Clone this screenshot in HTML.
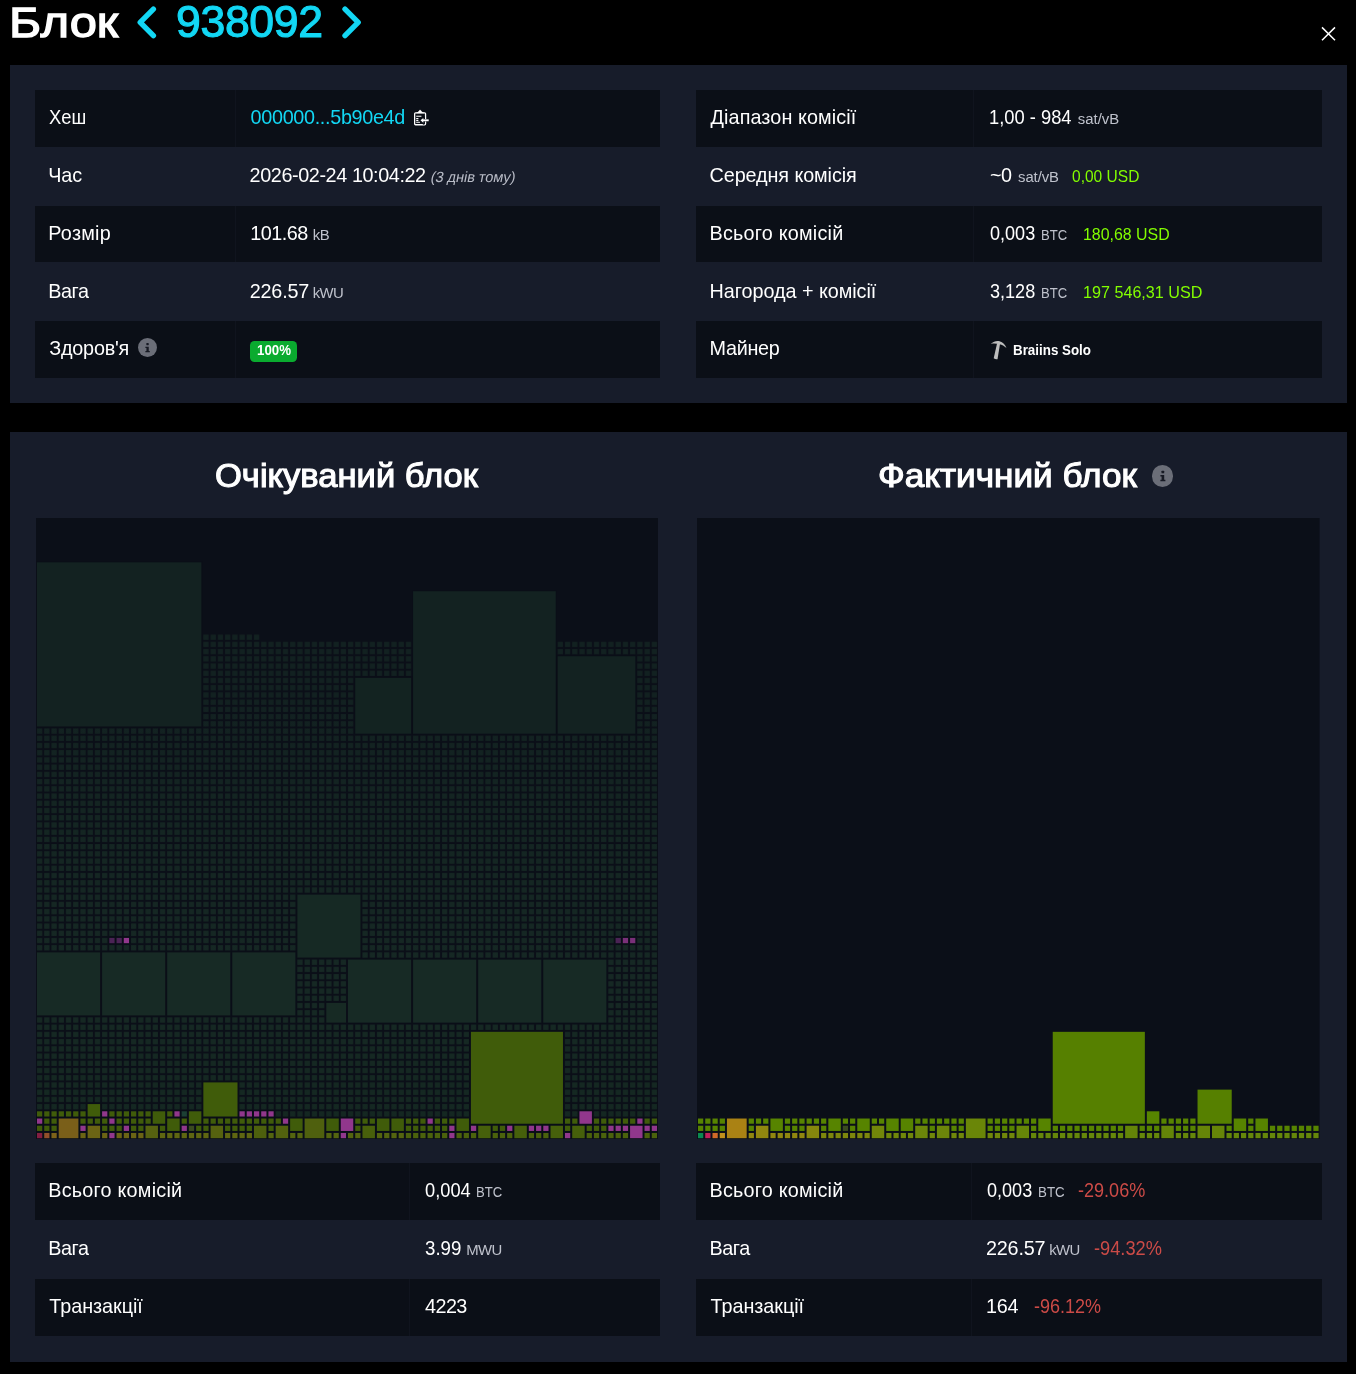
<!DOCTYPE html>
<html lang="uk"><head><meta charset="utf-8"><title>Блок 938092</title>
<style>
*{box-sizing:border-box;margin:0;padding:0}
html,body{width:1356px;height:1374px;background:#000;overflow:hidden}
body{position:relative;font-family:"Liberation Sans",sans-serif;color:#fff;font-size:19.2px;-webkit-font-smoothing:antialiased}
.t{position:absolute;line-height:1;white-space:pre;font-weight:400;margin:0;transform-origin:0 50%;text-decoration:none}
.w{color:#fff}.c{color:#12d7f4}.s{color:#bfc2cc}.g{color:#83fd00}.r{color:#cc4b47}.i{color:#b8bbc6}
.hb{-webkit-text-stroke:1.3px #fff}.hh{-webkit-text-stroke:1.1px #fff}
.c.big{-webkit-text-stroke:1.1px #12d7f4}
.box{position:absolute;left:9.6px;width:1337.4px;background:#171c2a}
.row{position:absolute;height:57.6px;width:625.5px}
.row.odd{background:#0b0f17;height:56.7px}
.row .sep{position:absolute;top:0;bottom:0;width:1px;background:#10141e}
svg{position:absolute;display:block}
#app{position:absolute;left:0;top:0;width:1356px;height:1374px;will-change:transform}
.badge{position:absolute;background:#0aab2f;border-radius:4.5px}
.info{position:absolute;border-radius:50%;background:#6b6e78}
.blockviz{position:absolute}
</style></head>
<body><main id="app">
<header class="title-block">
<h1 class="t w hb" style="left:9.14px;top:1.00px;font-size:43.2px;transform:scaleX(1.1329)">Блок</h1>
<svg style="left:130px;top:0" width="240" height="46" viewBox="130 0 240 46" fill="none" stroke="#12d7f4" stroke-width="5.4" stroke-linecap="round" stroke-linejoin="round"><path d="M153.4 9.2 L140.2 22.4 L153.4 35.6"/><path d="M345.0 9.2 L358.2 22.4 L345.0 35.6"/></svg>
<a class="t c big" style="left:176.05px;top:0.00px;font-size:44.6px;letter-spacing:-0.381px">938092</a>
<svg style="left:1318px;top:24px" width="22" height="20" viewBox="1318 24 22 20" stroke="#fff" stroke-width="1.5" stroke-linecap="butt"><path d="M1322 27.4 L1335 40.2 M1335 27.4 L1322 40.2"/></svg>
</header>
<section class="box" style="top:65px;height:338px"></section>
<div class="tbl" id="tbl-left">
<div class="row odd" style="left:35.2px;top:90.15px;width:624.9px;height:56.8px"><i class="sep" style="left:199.7px"></i></div>
<div class="row" style="left:35.2px;top:147.88px;width:624.9px"></div>
<div class="row odd" style="left:35.2px;top:205.61px;width:624.9px;height:56.8px"><i class="sep" style="left:199.7px"></i></div>
<div class="row" style="left:35.2px;top:263.34px;width:624.9px"></div>
<div class="row odd" style="left:35.2px;top:321.07px;width:624.9px;height:56.8px"><i class="sep" style="left:199.7px"></i></div>
<span class="t w" style="left:49.30px;top:108.00px;font-size:19.8px;transform:scaleX(0.9287)">Хеш</span>
<span class="t w" style="left:48.30px;top:166.00px;font-size:19.8px;letter-spacing:-0.143px">Час</span>
<span class="t w" style="left:48.30px;top:224.00px;font-size:19.8px;letter-spacing:0.247px">Розмір</span>
<span class="t w" style="left:48.30px;top:282.00px;font-size:19.8px;letter-spacing:-0.459px">Вага</span>
<span class="t w" style="left:49.30px;top:339.00px;font-size:19.8px;letter-spacing:-0.226px">Здоров'я</span>
<a class="t c" style="left:250.60px;top:108.00px;font-size:19.8px;letter-spacing:-0.320px">000000...5b90e4d</a>
<svg style="left:413px;top:108px" width="18" height="20" viewBox="0 0 18 20" fill="none" stroke="#fff" stroke-width="1.3"><rect x="1.65" y="4.95" width="10.9" height="11.8" rx="0.9"/><path d="M3.6 4.9 H10.6 L9.4 4.4 L7.1 1.9 L4.8 4.4 Z" fill="#fff" stroke-width="0.6" stroke-linejoin="round"/><path d="M3.2 8.25 H8.4 M3.2 10.6 H5.4 M3.2 12.4 H5.4 M3.2 14.3 H7" stroke-width="1.05"/><path d="M16 12.3 H10 M10.6 9.3 L7.2 12.3 L10.6 15.3 Z" stroke="#0b0f17" stroke-width="2.6" fill="#0b0f17" stroke-linejoin="round"/><path d="M15.7 12.3 H9.8" stroke-width="1.9"/><path d="M10.3 9.9 L7.5 12.3 L10.3 14.7 Z" fill="#fff" stroke="none"/></svg>
<span class="t w" style="left:249.60px;top:166.00px;font-size:19.8px;letter-spacing:-0.399px">2026-02-24 10:04:22</span>
<i class="t i" style="left:430.00px;top:170.00px;font-size:14.7px;letter-spacing:-0.134px;transform:skewX(-11deg);transform-origin:0 85%;font-style:normal">(3 днів тому)</i>
<span class="t w" style="left:250.20px;top:224.00px;font-size:19.8px;letter-spacing:-0.480px">101.68</span>
<small class="t s" style="left:312.80px;top:228.00px;font-size:14.9px;letter-spacing:-0.545px">kB</small>
<span class="t w" style="left:249.70px;top:282.00px;font-size:19.8px;letter-spacing:-0.180px">226.57</span>
<small class="t s" style="left:312.80px;top:286.00px;font-size:14.9px;letter-spacing:-0.650px">kWU</small>
<span class="info" style="left:137.8px;top:338.1px;width:19.2px;height:19.2px"></span>
<svg style="left:137.8px;top:338.1px" width="19.2" height="19.2" viewBox="0 0 20 20" fill="#171a24"><rect x="8.7" y="5.3" width="2.5" height="2.3" rx="0.5"/><path d="M7.7 9.1 H11.2 V13.5 H12.3 V14.9 H7.7 V13.5 H8.8 V10.5 H7.7 Z"/></svg>
<span class="badge" style="left:249.9px;top:341.2px;width:47px;height:21px"></span>
<span class="t w" style="left:256.60px;top:342.00px;font-size:15.4px;transform:scaleX(0.8619);font-weight:700">100%</span>
</div>
<div class="tbl" id="tbl-right">
<div class="row odd" style="left:696.4px;top:90.15px;width:625.4px;height:56.8px"><i class="sep" style="left:277.1px"></i></div>
<div class="row" style="left:696.4px;top:147.88px;width:625.4px"></div>
<div class="row odd" style="left:696.4px;top:205.61px;width:625.4px;height:56.8px"><i class="sep" style="left:277.1px"></i></div>
<div class="row" style="left:696.4px;top:263.34px;width:625.4px"></div>
<div class="row odd" style="left:696.4px;top:321.07px;width:625.4px;height:56.8px"><i class="sep" style="left:277.1px"></i></div>
<span class="t w" style="left:710.60px;top:108.00px;font-size:19.8px;letter-spacing:0.093px">Діапазон комісії</span>
<span class="t w" style="left:709.60px;top:166.00px;font-size:19.8px;letter-spacing:-0.092px">Середня комісія</span>
<span class="t w" style="left:709.60px;top:224.00px;font-size:19.8px;letter-spacing:0.213px">Всього комісій</span>
<span class="t w" style="left:709.60px;top:282.00px;font-size:19.8px;letter-spacing:-0.040px">Нагорода + комісії</span>
<span class="t w" style="left:709.60px;top:339.00px;font-size:19.8px;letter-spacing:-0.295px">Майнер</span>
<span class="t w" style="left:989.07px;top:108.00px;font-size:19.8px;transform:scaleX(0.9264)">1,00 - 984</span>
<span class="t s" style="left:1077.80px;top:112.00px;font-size:14.9px;letter-spacing:-0.009px">sat/vB</span>
<span class="t w" style="left:990.00px;top:166.00px;font-size:19.8px;letter-spacing:-0.452px">~0</span>
<span class="t s" style="left:1018.10px;top:170.00px;font-size:14.9px;letter-spacing:-0.109px">sat/vB</span>
<span class="t g" style="left:1072.30px;top:168.00px;font-size:17.3px;transform:scaleX(0.9000)">0,00 USD</span>
<span class="t w" style="left:990.00px;top:224.00px;font-size:19.8px;transform:scaleX(0.9131)">0,003</span>
<span class="t s" style="left:1040.62px;top:228.00px;font-size:14.9px;transform:scaleX(0.8785)">BTC</span>
<span class="t g" style="left:1083.08px;top:226.00px;font-size:17.3px;transform:scaleX(0.9205)">180,68 USD</span>
<span class="t w" style="left:990.00px;top:282.00px;font-size:19.8px;transform:scaleX(0.9131)">3,128</span>
<span class="t s" style="left:1040.62px;top:286.00px;font-size:14.9px;transform:scaleX(0.8785)">BTC</span>
<span class="t g" style="left:1083.07px;top:284.00px;font-size:17.3px;transform:scaleX(0.9343)">197 546,31 USD</span>
<svg style="left:989px;top:339px" width="20" height="22" viewBox="0 0 20 22" fill="#bdbdbd"><path d="M1.7 4.9 C4.5 2.2 8 1.4 10.6 2.2 C13.9 3.2 16.3 5.8 17.5 9 C15.2 6.9 13 5.7 10.6 5.2 C7.5 4.4 4.5 4.3 1.7 4.9 Z"/><path d="M8.1 4.3 L11 5 L8.5 20.2 Q6.5 20.7 4.7 19.3 Z"/></svg>
<b class="t w" style="left:1013.00px;top:343.00px;font-size:14.9px;transform:scaleX(0.8976);font-weight:700">Braiins Solo</b>
</div>
<section class="box" style="top:432px;height:929.6px"></section>
<h3 class="t w hh" style="left:215.03px;top:459.00px;font-size:33.0px;transform:scaleX(1.0470)">Очікуваний блок</h3>
<h3 class="t w hh" style="left:878.32px;top:459.00px;font-size:33.0px;transform:scaleX(1.0646)">Фактичний блок</h3>
<span class="info" style="left:1151.6px;top:465.1px;width:21.8px;height:21.8px"></span>
<svg style="left:1151.6px;top:465.1px" width="21.8" height="21.8" viewBox="0 0 20 20" fill="#171a24"><rect x="8.7" y="5.3" width="2.5" height="2.3" rx="0.5"/><path d="M7.7 9.1 H11.2 V13.5 H12.3 V14.9 H7.7 V13.5 H8.8 V10.5 H7.7 Z"/></svg>
<svg class="blockviz" preserveAspectRatio="none" style="left:36px;top:517.7px;height:621.2px" width="622" height="621.2" viewBox="0 0 622 622">
<defs>
<pattern id="cellpat" patternUnits="userSpaceOnUse" x="0" y="0" width="7.2326" height="7.2326"><rect x="1" y="1" width="5.233" height="5.233" fill="#f4f4f4"/></pattern>
<mask id="cellmask" maskUnits="userSpaceOnUse" x="0" y="0" width="622" height="622"><rect x="0" y="0" width="622" height="622" fill="url(#cellpat)"/></mask>
<linearGradient id="dimgrad" gradientUnits="userSpaceOnUse" x1="0" y1="0" x2="0" y2="622"><stop offset="0.000" stop-color="#132221"/><stop offset="0.279" stop-color="#132221"/><stop offset="0.477" stop-color="#152723"/><stop offset="0.744" stop-color="#172a25"/><stop offset="0.907" stop-color="#162a23"/><stop offset="1.000" stop-color="#152922"/></linearGradient>
</defs>
<rect width="622" height="622" fill="#0b0f18"/>
<path d="M0 122.95 H166.35 V115.72 H224.21 V122.95 H622 V622 H0 Z" fill="url(#dimgrad)" mask="url(#cellmask)"/>
<rect x="0.00" y="43.40" width="166.35" height="166.35" fill="#0b0f18"/><rect x="1.00" y="44.40" width="164.35" height="164.35" fill="#132221"/>
<rect x="376.09" y="72.33" width="144.65" height="144.65" fill="#0b0f18"/><rect x="377.09" y="73.33" width="142.65" height="142.65" fill="#132221"/>
<rect x="520.74" y="137.42" width="79.56" height="79.56" fill="#0b0f18"/><rect x="521.74" y="138.42" width="77.56" height="77.56" fill="#132221"/>
<rect x="318.23" y="159.12" width="57.86" height="57.86" fill="#0b0f18"/><rect x="319.23" y="160.12" width="55.86" height="55.86" fill="#132321"/>
<rect x="0.00" y="433.95" width="65.09" height="65.09" fill="#0b0f18"/><rect x="1.00" y="434.95" width="63.09" height="63.09" fill="#172a25"/>
<rect x="65.09" y="433.95" width="65.09" height="65.09" fill="#0b0f18"/><rect x="66.09" y="434.95" width="63.09" height="63.09" fill="#172a25"/>
<rect x="130.19" y="433.95" width="65.09" height="65.09" fill="#0b0f18"/><rect x="131.19" y="434.95" width="63.09" height="63.09" fill="#172a25"/>
<rect x="195.28" y="433.95" width="65.09" height="65.09" fill="#0b0f18"/><rect x="196.28" y="434.95" width="63.09" height="63.09" fill="#172a25"/>
<rect x="260.37" y="376.09" width="65.09" height="65.09" fill="#0b0f18"/><rect x="261.37" y="377.09" width="63.09" height="63.09" fill="#162924"/>
<rect x="311.00" y="441.19" width="65.09" height="65.09" fill="#0b0f18"/><rect x="312.00" y="442.19" width="63.09" height="63.09" fill="#172a25"/>
<rect x="376.09" y="441.19" width="65.09" height="65.09" fill="#0b0f18"/><rect x="377.09" y="442.19" width="63.09" height="63.09" fill="#172a25"/>
<rect x="441.19" y="441.19" width="65.09" height="65.09" fill="#0b0f18"/><rect x="442.19" y="442.19" width="63.09" height="63.09" fill="#172a25"/>
<rect x="506.28" y="441.19" width="65.09" height="65.09" fill="#0b0f18"/><rect x="507.28" y="442.19" width="63.09" height="63.09" fill="#172a25"/>
<rect x="289.30" y="484.58" width="21.70" height="21.70" fill="#0b0f18"/><rect x="290.30" y="485.58" width="19.70" height="19.70" fill="#172a24"/>
<rect x="433.95" y="513.51" width="94.02" height="94.02" fill="#0b0f18"/><rect x="434.95" y="514.51" width="92.02" height="92.02" fill="#405c0a"/>
<rect x="166.35" y="564.14" width="36.16" height="36.16" fill="#0b0f18"/><rect x="167.35" y="565.14" width="34.16" height="34.16" fill="#405c0a"/>
<rect x="21.70" y="600.30" width="21.70" height="21.70" fill="#0b0f18"/><rect x="22.70" y="601.30" width="19.70" height="19.70" fill="#7a5f19"/>
<rect x="267.60" y="600.30" width="21.70" height="21.70" fill="#0b0f18"/><rect x="268.60" y="601.30" width="19.70" height="19.70" fill="#4f600e"/>
<rect x="50.63" y="607.53" width="14.47" height="14.47" fill="#0b0f18"/><rect x="51.63" y="608.53" width="12.47" height="12.47" fill="#6b6414"/>
<rect x="108.49" y="607.53" width="14.47" height="14.47" fill="#0b0f18"/><rect x="109.49" y="608.53" width="12.47" height="12.47" fill="#566210"/>
<rect x="50.63" y="585.84" width="14.47" height="14.47" fill="#0b0f18"/><rect x="51.63" y="586.84" width="12.47" height="12.47" fill="#405c0a"/>
<rect x="130.19" y="600.30" width="14.47" height="14.47" fill="#0b0f18"/><rect x="131.19" y="601.30" width="12.47" height="12.47" fill="#405c0a"/>
<rect x="115.72" y="593.07" width="14.47" height="14.47" fill="#0b0f18"/><rect x="116.72" y="594.07" width="12.47" height="12.47" fill="#405c0a"/>
<rect x="151.88" y="593.07" width="14.47" height="14.47" fill="#0b0f18"/><rect x="152.88" y="594.07" width="12.47" height="12.47" fill="#405c0a"/>
<rect x="173.58" y="607.53" width="14.47" height="14.47" fill="#0b0f18"/><rect x="174.58" y="608.53" width="12.47" height="12.47" fill="#56620f"/>
<rect x="216.98" y="607.53" width="14.47" height="14.47" fill="#0b0f18"/><rect x="217.98" y="608.53" width="12.47" height="12.47" fill="#4d600d"/>
<rect x="238.67" y="607.53" width="14.47" height="14.47" fill="#0b0f18"/><rect x="239.67" y="608.53" width="12.47" height="12.47" fill="#52620e"/>
<rect x="253.14" y="600.30" width="14.47" height="14.47" fill="#0b0f18"/><rect x="254.14" y="601.30" width="12.47" height="12.47" fill="#405c0a"/>
<rect x="289.30" y="600.30" width="14.47" height="14.47" fill="#0b0f18"/><rect x="290.30" y="601.30" width="12.47" height="12.47" fill="#405c0a"/>
<rect x="303.77" y="600.30" width="14.47" height="14.47" fill="#0b0f18"/><rect x="304.77" y="601.30" width="12.47" height="12.47" fill="#91378c"/>
<rect x="325.47" y="607.53" width="14.47" height="14.47" fill="#0b0f18"/><rect x="326.47" y="608.53" width="12.47" height="12.47" fill="#48600b"/>
<rect x="339.93" y="600.30" width="14.47" height="14.47" fill="#0b0f18"/><rect x="340.93" y="601.30" width="12.47" height="12.47" fill="#405c0a"/>
<rect x="354.40" y="600.30" width="14.47" height="14.47" fill="#0b0f18"/><rect x="355.40" y="601.30" width="12.47" height="12.47" fill="#405c0a"/>
<rect x="419.49" y="600.30" width="14.47" height="14.47" fill="#0b0f18"/><rect x="420.49" y="601.30" width="12.47" height="12.47" fill="#405c0a"/>
<rect x="441.19" y="607.53" width="14.47" height="14.47" fill="#0b0f18"/><rect x="442.19" y="608.53" width="12.47" height="12.47" fill="#46600b"/>
<rect x="477.35" y="607.53" width="14.47" height="14.47" fill="#0b0f18"/><rect x="478.35" y="608.53" width="12.47" height="12.47" fill="#46600b"/>
<rect x="513.51" y="607.53" width="14.47" height="14.47" fill="#0b0f18"/><rect x="514.51" y="608.53" width="12.47" height="12.47" fill="#46600b"/>
<rect x="535.21" y="607.53" width="14.47" height="14.47" fill="#0b0f18"/><rect x="536.21" y="608.53" width="12.47" height="12.47" fill="#46600b"/>
<rect x="593.07" y="607.53" width="14.47" height="14.47" fill="#0b0f18"/><rect x="594.07" y="608.53" width="12.47" height="12.47" fill="#91378c"/>
<rect x="542.44" y="593.07" width="14.47" height="14.47" fill="#0b0f18"/><rect x="543.44" y="594.07" width="12.47" height="12.47" fill="#91378c"/>
<rect x="0.00" y="614.77" width="7.23" height="7.23" fill="#0b0f18"/><rect x="1.00" y="615.77" width="5.23" height="5.23" fill="#821e41"/>
<rect x="7.23" y="614.77" width="7.23" height="7.23" fill="#0b0f18"/><rect x="8.23" y="615.77" width="5.23" height="5.23" fill="#91502a"/>
<rect x="14.47" y="614.77" width="7.23" height="7.23" fill="#0b0f18"/><rect x="15.47" y="615.77" width="5.23" height="5.23" fill="#7d6219"/>
<rect x="43.40" y="614.77" width="7.23" height="7.23" fill="#0b0f18"/><rect x="44.40" y="615.77" width="5.23" height="5.23" fill="#6b6414"/>
<rect x="65.09" y="614.77" width="7.23" height="7.23" fill="#0b0f18"/><rect x="66.09" y="615.77" width="5.23" height="5.23" fill="#6b6414"/>
<rect x="72.33" y="614.77" width="7.23" height="7.23" fill="#0b0f18"/><rect x="73.33" y="615.77" width="5.23" height="5.23" fill="#91378c"/>
<rect x="79.56" y="614.77" width="7.23" height="7.23" fill="#0b0f18"/><rect x="80.56" y="615.77" width="5.23" height="5.23" fill="#6b6414"/>
<rect x="86.79" y="614.77" width="7.23" height="7.23" fill="#0b0f18"/><rect x="87.79" y="615.77" width="5.23" height="5.23" fill="#6b6414"/>
<rect x="94.02" y="614.77" width="7.23" height="7.23" fill="#0b0f18"/><rect x="95.02" y="615.77" width="5.23" height="5.23" fill="#6b6414"/>
<rect x="101.26" y="614.77" width="7.23" height="7.23" fill="#0b0f18"/><rect x="102.26" y="615.77" width="5.23" height="5.23" fill="#6b6414"/>
<rect x="122.95" y="614.77" width="7.23" height="7.23" fill="#0b0f18"/><rect x="123.95" y="615.77" width="5.23" height="5.23" fill="#5f6611"/>
<rect x="130.19" y="614.77" width="7.23" height="7.23" fill="#0b0f18"/><rect x="131.19" y="615.77" width="5.23" height="5.23" fill="#5f6611"/>
<rect x="137.42" y="614.77" width="7.23" height="7.23" fill="#0b0f18"/><rect x="138.42" y="615.77" width="5.23" height="5.23" fill="#5f6611"/>
<rect x="144.65" y="614.77" width="7.23" height="7.23" fill="#0b0f18"/><rect x="145.65" y="615.77" width="5.23" height="5.23" fill="#5f6611"/>
<rect x="151.88" y="614.77" width="7.23" height="7.23" fill="#0b0f18"/><rect x="152.88" y="615.77" width="5.23" height="5.23" fill="#5f6611"/>
<rect x="159.12" y="614.77" width="7.23" height="7.23" fill="#0b0f18"/><rect x="160.12" y="615.77" width="5.23" height="5.23" fill="#5f6611"/>
<rect x="166.35" y="614.77" width="7.23" height="7.23" fill="#0b0f18"/><rect x="167.35" y="615.77" width="5.23" height="5.23" fill="#5f6611"/>
<rect x="188.05" y="614.77" width="7.23" height="7.23" fill="#0b0f18"/><rect x="189.05" y="615.77" width="5.23" height="5.23" fill="#5f6611"/>
<rect x="195.28" y="614.77" width="7.23" height="7.23" fill="#0b0f18"/><rect x="196.28" y="615.77" width="5.23" height="5.23" fill="#5f6611"/>
<rect x="202.51" y="614.77" width="7.23" height="7.23" fill="#0b0f18"/><rect x="203.51" y="615.77" width="5.23" height="5.23" fill="#5f6611"/>
<rect x="209.74" y="614.77" width="7.23" height="7.23" fill="#0b0f18"/><rect x="210.74" y="615.77" width="5.23" height="5.23" fill="#5f6611"/>
<rect x="231.44" y="614.77" width="7.23" height="7.23" fill="#0b0f18"/><rect x="232.44" y="615.77" width="5.23" height="5.23" fill="#54650f"/>
<rect x="253.14" y="614.77" width="7.23" height="7.23" fill="#0b0f18"/><rect x="254.14" y="615.77" width="5.23" height="5.23" fill="#54650f"/>
<rect x="260.37" y="614.77" width="7.23" height="7.23" fill="#0b0f18"/><rect x="261.37" y="615.77" width="5.23" height="5.23" fill="#54650f"/>
<rect x="289.30" y="614.77" width="7.23" height="7.23" fill="#0b0f18"/><rect x="290.30" y="615.77" width="5.23" height="5.23" fill="#54650f"/>
<rect x="296.53" y="614.77" width="7.23" height="7.23" fill="#0b0f18"/><rect x="297.53" y="615.77" width="5.23" height="5.23" fill="#54650f"/>
<rect x="303.77" y="614.77" width="7.23" height="7.23" fill="#0b0f18"/><rect x="304.77" y="615.77" width="5.23" height="5.23" fill="#91378c"/>
<rect x="311.00" y="614.77" width="7.23" height="7.23" fill="#0b0f18"/><rect x="312.00" y="615.77" width="5.23" height="5.23" fill="#54650f"/>
<rect x="318.23" y="614.77" width="7.23" height="7.23" fill="#0b0f18"/><rect x="319.23" y="615.77" width="5.23" height="5.23" fill="#54650f"/>
<rect x="339.93" y="614.77" width="7.23" height="7.23" fill="#0b0f18"/><rect x="340.93" y="615.77" width="5.23" height="5.23" fill="#54650f"/>
<rect x="347.16" y="614.77" width="7.23" height="7.23" fill="#0b0f18"/><rect x="348.16" y="615.77" width="5.23" height="5.23" fill="#54650f"/>
<rect x="354.40" y="614.77" width="7.23" height="7.23" fill="#0b0f18"/><rect x="355.40" y="615.77" width="5.23" height="5.23" fill="#54650f"/>
<rect x="361.63" y="614.77" width="7.23" height="7.23" fill="#0b0f18"/><rect x="362.63" y="615.77" width="5.23" height="5.23" fill="#54650f"/>
<rect x="368.86" y="614.77" width="7.23" height="7.23" fill="#0b0f18"/><rect x="369.86" y="615.77" width="5.23" height="5.23" fill="#4b620c"/>
<rect x="376.09" y="614.77" width="7.23" height="7.23" fill="#0b0f18"/><rect x="377.09" y="615.77" width="5.23" height="5.23" fill="#4b620c"/>
<rect x="383.33" y="614.77" width="7.23" height="7.23" fill="#0b0f18"/><rect x="384.33" y="615.77" width="5.23" height="5.23" fill="#4b620c"/>
<rect x="390.56" y="614.77" width="7.23" height="7.23" fill="#0b0f18"/><rect x="391.56" y="615.77" width="5.23" height="5.23" fill="#4b620c"/>
<rect x="397.79" y="614.77" width="7.23" height="7.23" fill="#0b0f18"/><rect x="398.79" y="615.77" width="5.23" height="5.23" fill="#4b620c"/>
<rect x="405.02" y="614.77" width="7.23" height="7.23" fill="#0b0f18"/><rect x="406.02" y="615.77" width="5.23" height="5.23" fill="#4b620c"/>
<rect x="412.26" y="614.77" width="7.23" height="7.23" fill="#0b0f18"/><rect x="413.26" y="615.77" width="5.23" height="5.23" fill="#91378c"/>
<rect x="419.49" y="614.77" width="7.23" height="7.23" fill="#0b0f18"/><rect x="420.49" y="615.77" width="5.23" height="5.23" fill="#4b620c"/>
<rect x="426.72" y="614.77" width="7.23" height="7.23" fill="#0b0f18"/><rect x="427.72" y="615.77" width="5.23" height="5.23" fill="#4b620c"/>
<rect x="433.95" y="614.77" width="7.23" height="7.23" fill="#0b0f18"/><rect x="434.95" y="615.77" width="5.23" height="5.23" fill="#4b620c"/>
<rect x="455.65" y="614.77" width="7.23" height="7.23" fill="#0b0f18"/><rect x="456.65" y="615.77" width="5.23" height="5.23" fill="#4b620c"/>
<rect x="462.88" y="614.77" width="7.23" height="7.23" fill="#0b0f18"/><rect x="463.88" y="615.77" width="5.23" height="5.23" fill="#4b620c"/>
<rect x="470.12" y="614.77" width="7.23" height="7.23" fill="#0b0f18"/><rect x="471.12" y="615.77" width="5.23" height="5.23" fill="#4b620c"/>
<rect x="491.81" y="614.77" width="7.23" height="7.23" fill="#0b0f18"/><rect x="492.81" y="615.77" width="5.23" height="5.23" fill="#4b620c"/>
<rect x="499.05" y="614.77" width="7.23" height="7.23" fill="#0b0f18"/><rect x="500.05" y="615.77" width="5.23" height="5.23" fill="#4b620c"/>
<rect x="506.28" y="614.77" width="7.23" height="7.23" fill="#0b0f18"/><rect x="507.28" y="615.77" width="5.23" height="5.23" fill="#4b620c"/>
<rect x="527.98" y="614.77" width="7.23" height="7.23" fill="#0b0f18"/><rect x="528.98" y="615.77" width="5.23" height="5.23" fill="#91378c"/>
<rect x="549.67" y="614.77" width="7.23" height="7.23" fill="#0b0f18"/><rect x="550.67" y="615.77" width="5.23" height="5.23" fill="#4b620c"/>
<rect x="556.91" y="614.77" width="7.23" height="7.23" fill="#0b0f18"/><rect x="557.91" y="615.77" width="5.23" height="5.23" fill="#4b620c"/>
<rect x="564.14" y="614.77" width="7.23" height="7.23" fill="#0b0f18"/><rect x="565.14" y="615.77" width="5.23" height="5.23" fill="#4b620c"/>
<rect x="571.37" y="614.77" width="7.23" height="7.23" fill="#0b0f18"/><rect x="572.37" y="615.77" width="5.23" height="5.23" fill="#4b620c"/>
<rect x="578.60" y="614.77" width="7.23" height="7.23" fill="#0b0f18"/><rect x="579.60" y="615.77" width="5.23" height="5.23" fill="#4b620c"/>
<rect x="585.84" y="614.77" width="7.23" height="7.23" fill="#0b0f18"/><rect x="586.84" y="615.77" width="5.23" height="5.23" fill="#4b620c"/>
<rect x="607.53" y="614.77" width="7.23" height="7.23" fill="#0b0f18"/><rect x="608.53" y="615.77" width="5.23" height="5.23" fill="#4b620c"/>
<rect x="614.77" y="614.77" width="7.23" height="7.23" fill="#0b0f18"/><rect x="615.77" y="615.77" width="5.23" height="5.23" fill="#4b620c"/>
<rect x="0.00" y="607.53" width="7.23" height="7.23" fill="#0b0f18"/><rect x="1.00" y="608.53" width="5.23" height="5.23" fill="#405c0a"/>
<rect x="7.23" y="607.53" width="7.23" height="7.23" fill="#0b0f18"/><rect x="8.23" y="608.53" width="5.23" height="5.23" fill="#405c0a"/>
<rect x="14.47" y="607.53" width="7.23" height="7.23" fill="#0b0f18"/><rect x="15.47" y="608.53" width="5.23" height="5.23" fill="#405c0a"/>
<rect x="43.40" y="607.53" width="7.23" height="7.23" fill="#0b0f18"/><rect x="44.40" y="608.53" width="5.23" height="5.23" fill="#91378c"/>
<rect x="65.09" y="607.53" width="7.23" height="7.23" fill="#0b0f18"/><rect x="66.09" y="608.53" width="5.23" height="5.23" fill="#405c0a"/>
<rect x="72.33" y="607.53" width="7.23" height="7.23" fill="#0b0f18"/><rect x="73.33" y="608.53" width="5.23" height="5.23" fill="#405c0a"/>
<rect x="79.56" y="607.53" width="7.23" height="7.23" fill="#0b0f18"/><rect x="80.56" y="608.53" width="5.23" height="5.23" fill="#405c0a"/>
<rect x="86.79" y="607.53" width="7.23" height="7.23" fill="#0b0f18"/><rect x="87.79" y="608.53" width="5.23" height="5.23" fill="#91378c"/>
<rect x="94.02" y="607.53" width="7.23" height="7.23" fill="#0b0f18"/><rect x="95.02" y="608.53" width="5.23" height="5.23" fill="#405c0a"/>
<rect x="101.26" y="607.53" width="7.23" height="7.23" fill="#0b0f18"/><rect x="102.26" y="608.53" width="5.23" height="5.23" fill="#405c0a"/>
<rect x="122.95" y="607.53" width="7.23" height="7.23" fill="#0b0f18"/><rect x="123.95" y="608.53" width="5.23" height="5.23" fill="#405c0a"/>
<rect x="144.65" y="607.53" width="7.23" height="7.23" fill="#0b0f18"/><rect x="145.65" y="608.53" width="5.23" height="5.23" fill="#91378c"/>
<rect x="151.88" y="607.53" width="7.23" height="7.23" fill="#0b0f18"/><rect x="152.88" y="608.53" width="5.23" height="5.23" fill="#3a4a20"/>
<rect x="159.12" y="607.53" width="7.23" height="7.23" fill="#0b0f18"/><rect x="160.12" y="608.53" width="5.23" height="5.23" fill="#405c0a"/>
<rect x="166.35" y="607.53" width="7.23" height="7.23" fill="#0b0f18"/><rect x="167.35" y="608.53" width="5.23" height="5.23" fill="#405c0a"/>
<rect x="188.05" y="607.53" width="7.23" height="7.23" fill="#0b0f18"/><rect x="189.05" y="608.53" width="5.23" height="5.23" fill="#405c0a"/>
<rect x="195.28" y="607.53" width="7.23" height="7.23" fill="#0b0f18"/><rect x="196.28" y="608.53" width="5.23" height="5.23" fill="#405c0a"/>
<rect x="202.51" y="607.53" width="7.23" height="7.23" fill="#0b0f18"/><rect x="203.51" y="608.53" width="5.23" height="5.23" fill="#405c0a"/>
<rect x="209.74" y="607.53" width="7.23" height="7.23" fill="#0b0f18"/><rect x="210.74" y="608.53" width="5.23" height="5.23" fill="#405c0a"/>
<rect x="231.44" y="607.53" width="7.23" height="7.23" fill="#0b0f18"/><rect x="232.44" y="608.53" width="5.23" height="5.23" fill="#405c0a"/>
<rect x="318.23" y="607.53" width="7.23" height="7.23" fill="#0b0f18"/><rect x="319.23" y="608.53" width="5.23" height="5.23" fill="#405c0a"/>
<rect x="368.86" y="607.53" width="7.23" height="7.23" fill="#0b0f18"/><rect x="369.86" y="608.53" width="5.23" height="5.23" fill="#405c0a"/>
<rect x="376.09" y="607.53" width="7.23" height="7.23" fill="#0b0f18"/><rect x="377.09" y="608.53" width="5.23" height="5.23" fill="#405c0a"/>
<rect x="383.33" y="607.53" width="7.23" height="7.23" fill="#0b0f18"/><rect x="384.33" y="608.53" width="5.23" height="5.23" fill="#405c0a"/>
<rect x="390.56" y="607.53" width="7.23" height="7.23" fill="#0b0f18"/><rect x="391.56" y="608.53" width="5.23" height="5.23" fill="#405c0a"/>
<rect x="397.79" y="607.53" width="7.23" height="7.23" fill="#0b0f18"/><rect x="398.79" y="608.53" width="5.23" height="5.23" fill="#405c0a"/>
<rect x="405.02" y="607.53" width="7.23" height="7.23" fill="#0b0f18"/><rect x="406.02" y="608.53" width="5.23" height="5.23" fill="#405c0a"/>
<rect x="412.26" y="607.53" width="7.23" height="7.23" fill="#0b0f18"/><rect x="413.26" y="608.53" width="5.23" height="5.23" fill="#91378c"/>
<rect x="433.95" y="607.53" width="7.23" height="7.23" fill="#0b0f18"/><rect x="434.95" y="608.53" width="5.23" height="5.23" fill="#91378c"/>
<rect x="455.65" y="607.53" width="7.23" height="7.23" fill="#0b0f18"/><rect x="456.65" y="608.53" width="5.23" height="5.23" fill="#405c0a"/>
<rect x="462.88" y="607.53" width="7.23" height="7.23" fill="#0b0f18"/><rect x="463.88" y="608.53" width="5.23" height="5.23" fill="#405c0a"/>
<rect x="470.12" y="607.53" width="7.23" height="7.23" fill="#0b0f18"/><rect x="471.12" y="608.53" width="5.23" height="5.23" fill="#91378c"/>
<rect x="491.81" y="607.53" width="7.23" height="7.23" fill="#0b0f18"/><rect x="492.81" y="608.53" width="5.23" height="5.23" fill="#91378c"/>
<rect x="499.05" y="607.53" width="7.23" height="7.23" fill="#0b0f18"/><rect x="500.05" y="608.53" width="5.23" height="5.23" fill="#91378c"/>
<rect x="506.28" y="607.53" width="7.23" height="7.23" fill="#0b0f18"/><rect x="507.28" y="608.53" width="5.23" height="5.23" fill="#91378c"/>
<rect x="527.98" y="607.53" width="7.23" height="7.23" fill="#0b0f18"/><rect x="528.98" y="608.53" width="5.23" height="5.23" fill="#405c0a"/>
<rect x="549.67" y="607.53" width="7.23" height="7.23" fill="#0b0f18"/><rect x="550.67" y="608.53" width="5.23" height="5.23" fill="#405c0a"/>
<rect x="556.91" y="607.53" width="7.23" height="7.23" fill="#0b0f18"/><rect x="557.91" y="608.53" width="5.23" height="5.23" fill="#405c0a"/>
<rect x="564.14" y="607.53" width="7.23" height="7.23" fill="#0b0f18"/><rect x="565.14" y="608.53" width="5.23" height="5.23" fill="#405c0a"/>
<rect x="571.37" y="607.53" width="7.23" height="7.23" fill="#0b0f18"/><rect x="572.37" y="608.53" width="5.23" height="5.23" fill="#91378c"/>
<rect x="578.60" y="607.53" width="7.23" height="7.23" fill="#0b0f18"/><rect x="579.60" y="608.53" width="5.23" height="5.23" fill="#91378c"/>
<rect x="585.84" y="607.53" width="7.23" height="7.23" fill="#0b0f18"/><rect x="586.84" y="608.53" width="5.23" height="5.23" fill="#91378c"/>
<rect x="607.53" y="607.53" width="7.23" height="7.23" fill="#0b0f18"/><rect x="608.53" y="608.53" width="5.23" height="5.23" fill="#91378c"/>
<rect x="614.77" y="607.53" width="7.23" height="7.23" fill="#0b0f18"/><rect x="615.77" y="608.53" width="5.23" height="5.23" fill="#91378c"/>
<rect x="0.00" y="600.30" width="7.23" height="7.23" fill="#0b0f18"/><rect x="1.00" y="601.30" width="5.23" height="5.23" fill="#91378c"/>
<rect x="7.23" y="600.30" width="7.23" height="7.23" fill="#0b0f18"/><rect x="8.23" y="601.30" width="5.23" height="5.23" fill="#405c0a"/>
<rect x="14.47" y="600.30" width="7.23" height="7.23" fill="#0b0f18"/><rect x="15.47" y="601.30" width="5.23" height="5.23" fill="#405c0a"/>
<rect x="43.40" y="600.30" width="7.23" height="7.23" fill="#0b0f18"/><rect x="44.40" y="601.30" width="5.23" height="5.23" fill="#405c0a"/>
<rect x="50.63" y="600.30" width="7.23" height="7.23" fill="#0b0f18"/><rect x="51.63" y="601.30" width="5.23" height="5.23" fill="#405c0a"/>
<rect x="57.86" y="600.30" width="7.23" height="7.23" fill="#0b0f18"/><rect x="58.86" y="601.30" width="5.23" height="5.23" fill="#405c0a"/>
<rect x="65.09" y="600.30" width="7.23" height="7.23" fill="#0b0f18"/><rect x="66.09" y="601.30" width="5.23" height="5.23" fill="#405c0a"/>
<rect x="72.33" y="600.30" width="7.23" height="7.23" fill="#0b0f18"/><rect x="73.33" y="601.30" width="5.23" height="5.23" fill="#91378c"/>
<rect x="79.56" y="600.30" width="7.23" height="7.23" fill="#0b0f18"/><rect x="80.56" y="601.30" width="5.23" height="5.23" fill="#405c0a"/>
<rect x="86.79" y="600.30" width="7.23" height="7.23" fill="#0b0f18"/><rect x="87.79" y="601.30" width="5.23" height="5.23" fill="#405c0a"/>
<rect x="94.02" y="600.30" width="7.23" height="7.23" fill="#0b0f18"/><rect x="95.02" y="601.30" width="5.23" height="5.23" fill="#405c0a"/>
<rect x="101.26" y="600.30" width="7.23" height="7.23" fill="#0b0f18"/><rect x="102.26" y="601.30" width="5.23" height="5.23" fill="#405c0a"/>
<rect x="108.49" y="600.30" width="7.23" height="7.23" fill="#0b0f18"/><rect x="109.49" y="601.30" width="5.23" height="5.23" fill="#405c0a"/>
<rect x="144.65" y="600.30" width="7.23" height="7.23" fill="#0b0f18"/><rect x="145.65" y="601.30" width="5.23" height="5.23" fill="#405c0a"/>
<rect x="166.35" y="600.30" width="7.23" height="7.23" fill="#0b0f18"/><rect x="167.35" y="601.30" width="5.23" height="5.23" fill="#405c0a"/>
<rect x="173.58" y="600.30" width="7.23" height="7.23" fill="#0b0f18"/><rect x="174.58" y="601.30" width="5.23" height="5.23" fill="#405c0a"/>
<rect x="180.81" y="600.30" width="7.23" height="7.23" fill="#0b0f18"/><rect x="181.81" y="601.30" width="5.23" height="5.23" fill="#405c0a"/>
<rect x="188.05" y="600.30" width="7.23" height="7.23" fill="#0b0f18"/><rect x="189.05" y="601.30" width="5.23" height="5.23" fill="#405c0a"/>
<rect x="195.28" y="600.30" width="7.23" height="7.23" fill="#0b0f18"/><rect x="196.28" y="601.30" width="5.23" height="5.23" fill="#405c0a"/>
<rect x="202.51" y="600.30" width="7.23" height="7.23" fill="#0b0f18"/><rect x="203.51" y="601.30" width="5.23" height="5.23" fill="#405c0a"/>
<rect x="209.74" y="600.30" width="7.23" height="7.23" fill="#0b0f18"/><rect x="210.74" y="601.30" width="5.23" height="5.23" fill="#405c0a"/>
<rect x="216.98" y="600.30" width="7.23" height="7.23" fill="#0b0f18"/><rect x="217.98" y="601.30" width="5.23" height="5.23" fill="#405c0a"/>
<rect x="224.21" y="600.30" width="7.23" height="7.23" fill="#0b0f18"/><rect x="225.21" y="601.30" width="5.23" height="5.23" fill="#405c0a"/>
<rect x="231.44" y="600.30" width="7.23" height="7.23" fill="#0b0f18"/><rect x="232.44" y="601.30" width="5.23" height="5.23" fill="#405c0a"/>
<rect x="238.67" y="600.30" width="7.23" height="7.23" fill="#0b0f18"/><rect x="239.67" y="601.30" width="5.23" height="5.23" fill="#405c0a"/>
<rect x="245.91" y="600.30" width="7.23" height="7.23" fill="#0b0f18"/><rect x="246.91" y="601.30" width="5.23" height="5.23" fill="#91378c"/>
<rect x="318.23" y="600.30" width="7.23" height="7.23" fill="#0b0f18"/><rect x="319.23" y="601.30" width="5.23" height="5.23" fill="#405c0a"/>
<rect x="325.47" y="600.30" width="7.23" height="7.23" fill="#0b0f18"/><rect x="326.47" y="601.30" width="5.23" height="5.23" fill="#405c0a"/>
<rect x="332.70" y="600.30" width="7.23" height="7.23" fill="#0b0f18"/><rect x="333.70" y="601.30" width="5.23" height="5.23" fill="#405c0a"/>
<rect x="368.86" y="600.30" width="7.23" height="7.23" fill="#0b0f18"/><rect x="369.86" y="601.30" width="5.23" height="5.23" fill="#405c0a"/>
<rect x="376.09" y="600.30" width="7.23" height="7.23" fill="#0b0f18"/><rect x="377.09" y="601.30" width="5.23" height="5.23" fill="#405c0a"/>
<rect x="383.33" y="600.30" width="7.23" height="7.23" fill="#0b0f18"/><rect x="384.33" y="601.30" width="5.23" height="5.23" fill="#405c0a"/>
<rect x="390.56" y="600.30" width="7.23" height="7.23" fill="#0b0f18"/><rect x="391.56" y="601.30" width="5.23" height="5.23" fill="#91378c"/>
<rect x="397.79" y="600.30" width="7.23" height="7.23" fill="#0b0f18"/><rect x="398.79" y="601.30" width="5.23" height="5.23" fill="#405c0a"/>
<rect x="405.02" y="600.30" width="7.23" height="7.23" fill="#0b0f18"/><rect x="406.02" y="601.30" width="5.23" height="5.23" fill="#405c0a"/>
<rect x="412.26" y="600.30" width="7.23" height="7.23" fill="#0b0f18"/><rect x="413.26" y="601.30" width="5.23" height="5.23" fill="#405c0a"/>
<rect x="527.98" y="600.30" width="7.23" height="7.23" fill="#0b0f18"/><rect x="528.98" y="601.30" width="5.23" height="5.23" fill="#405c0a"/>
<rect x="535.21" y="600.30" width="7.23" height="7.23" fill="#0b0f18"/><rect x="536.21" y="601.30" width="5.23" height="5.23" fill="#405c0a"/>
<rect x="556.91" y="600.30" width="7.23" height="7.23" fill="#0b0f18"/><rect x="557.91" y="601.30" width="5.23" height="5.23" fill="#405c0a"/>
<rect x="564.14" y="600.30" width="7.23" height="7.23" fill="#0b0f18"/><rect x="565.14" y="601.30" width="5.23" height="5.23" fill="#405c0a"/>
<rect x="571.37" y="600.30" width="7.23" height="7.23" fill="#0b0f18"/><rect x="572.37" y="601.30" width="5.23" height="5.23" fill="#405c0a"/>
<rect x="578.60" y="600.30" width="7.23" height="7.23" fill="#0b0f18"/><rect x="579.60" y="601.30" width="5.23" height="5.23" fill="#405c0a"/>
<rect x="585.84" y="600.30" width="7.23" height="7.23" fill="#0b0f18"/><rect x="586.84" y="601.30" width="5.23" height="5.23" fill="#405c0a"/>
<rect x="593.07" y="600.30" width="7.23" height="7.23" fill="#0b0f18"/><rect x="594.07" y="601.30" width="5.23" height="5.23" fill="#405c0a"/>
<rect x="600.30" y="600.30" width="7.23" height="7.23" fill="#0b0f18"/><rect x="601.30" y="601.30" width="5.23" height="5.23" fill="#91378c"/>
<rect x="607.53" y="600.30" width="7.23" height="7.23" fill="#0b0f18"/><rect x="608.53" y="601.30" width="5.23" height="5.23" fill="#405c0a"/>
<rect x="614.77" y="600.30" width="7.23" height="7.23" fill="#0b0f18"/><rect x="615.77" y="601.30" width="5.23" height="5.23" fill="#405c0a"/>
<rect x="0.00" y="593.07" width="7.23" height="7.23" fill="#0b0f18"/><rect x="1.00" y="594.07" width="5.23" height="5.23" fill="#405c0a"/>
<rect x="7.23" y="593.07" width="7.23" height="7.23" fill="#0b0f18"/><rect x="8.23" y="594.07" width="5.23" height="5.23" fill="#405c0a"/>
<rect x="14.47" y="593.07" width="7.23" height="7.23" fill="#0b0f18"/><rect x="15.47" y="594.07" width="5.23" height="5.23" fill="#405c0a"/>
<rect x="21.70" y="593.07" width="7.23" height="7.23" fill="#0b0f18"/><rect x="22.70" y="594.07" width="5.23" height="5.23" fill="#405c0a"/>
<rect x="28.93" y="593.07" width="7.23" height="7.23" fill="#0b0f18"/><rect x="29.93" y="594.07" width="5.23" height="5.23" fill="#405c0a"/>
<rect x="36.16" y="593.07" width="7.23" height="7.23" fill="#0b0f18"/><rect x="37.16" y="594.07" width="5.23" height="5.23" fill="#405c0a"/>
<rect x="43.40" y="593.07" width="7.23" height="7.23" fill="#0b0f18"/><rect x="44.40" y="594.07" width="5.23" height="5.23" fill="#405c0a"/>
<rect x="65.09" y="593.07" width="7.23" height="7.23" fill="#0b0f18"/><rect x="66.09" y="594.07" width="5.23" height="5.23" fill="#91378c"/>
<rect x="72.33" y="593.07" width="7.23" height="7.23" fill="#0b0f18"/><rect x="73.33" y="594.07" width="5.23" height="5.23" fill="#405c0a"/>
<rect x="79.56" y="593.07" width="7.23" height="7.23" fill="#0b0f18"/><rect x="80.56" y="594.07" width="5.23" height="5.23" fill="#405c0a"/>
<rect x="86.79" y="593.07" width="7.23" height="7.23" fill="#0b0f18"/><rect x="87.79" y="594.07" width="5.23" height="5.23" fill="#405c0a"/>
<rect x="94.02" y="593.07" width="7.23" height="7.23" fill="#0b0f18"/><rect x="95.02" y="594.07" width="5.23" height="5.23" fill="#405c0a"/>
<rect x="101.26" y="593.07" width="7.23" height="7.23" fill="#0b0f18"/><rect x="102.26" y="594.07" width="5.23" height="5.23" fill="#405c0a"/>
<rect x="108.49" y="593.07" width="7.23" height="7.23" fill="#0b0f18"/><rect x="109.49" y="594.07" width="5.23" height="5.23" fill="#405c0a"/>
<rect x="130.19" y="593.07" width="7.23" height="7.23" fill="#0b0f18"/><rect x="131.19" y="594.07" width="5.23" height="5.23" fill="#405c0a"/>
<rect x="137.42" y="593.07" width="7.23" height="7.23" fill="#0b0f18"/><rect x="138.42" y="594.07" width="5.23" height="5.23" fill="#91378c"/>
<rect x="144.65" y="593.07" width="7.23" height="7.23" fill="#0b0f18"/><rect x="145.65" y="594.07" width="5.23" height="5.23" fill="#1c4034"/>
<rect x="202.51" y="593.07" width="7.23" height="7.23" fill="#0b0f18"/><rect x="203.51" y="594.07" width="5.23" height="5.23" fill="#91378c"/>
<rect x="209.74" y="593.07" width="7.23" height="7.23" fill="#0b0f18"/><rect x="210.74" y="594.07" width="5.23" height="5.23" fill="#91378c"/>
<rect x="216.98" y="593.07" width="7.23" height="7.23" fill="#0b0f18"/><rect x="217.98" y="594.07" width="5.23" height="5.23" fill="#91378c"/>
<rect x="224.21" y="593.07" width="7.23" height="7.23" fill="#0b0f18"/><rect x="225.21" y="594.07" width="5.23" height="5.23" fill="#91378c"/>
<rect x="231.44" y="593.07" width="7.23" height="7.23" fill="#0b0f18"/><rect x="232.44" y="594.07" width="5.23" height="5.23" fill="#91378c"/>
<rect x="72.33" y="419.49" width="7.23" height="7.23" fill="#0b0f18"/><rect x="73.33" y="420.49" width="5.23" height="5.23" fill="#4b2355"/>
<rect x="79.56" y="419.49" width="7.23" height="7.23" fill="#0b0f18"/><rect x="80.56" y="420.49" width="5.23" height="5.23" fill="#4b2355"/>
<rect x="86.79" y="419.49" width="7.23" height="7.23" fill="#0b0f18"/><rect x="87.79" y="420.49" width="5.23" height="5.23" fill="#91378c"/>
<rect x="578.60" y="419.49" width="7.23" height="7.23" fill="#0b0f18"/><rect x="579.60" y="420.49" width="5.23" height="5.23" fill="#4b2355"/>
<rect x="585.84" y="419.49" width="7.23" height="7.23" fill="#0b0f18"/><rect x="586.84" y="420.49" width="5.23" height="5.23" fill="#7a3079"/>
<rect x="593.07" y="419.49" width="7.23" height="7.23" fill="#0b0f18"/><rect x="594.07" y="420.49" width="5.23" height="5.23" fill="#7a3079"/>
</svg>
<svg class="blockviz" preserveAspectRatio="none" style="left:697.2px;top:517.7px;width:622.6px;height:621.2px" width="622" height="621.2" viewBox="0 0 622 622">
<rect width="622" height="622" fill="#0b0f18"/>
<rect x="29.93" y="601.30" width="19.70" height="19.70" fill="#aa8214"/>
<rect x="58.86" y="608.53" width="12.47" height="12.47" fill="#91870f"/>
<rect x="109.49" y="608.53" width="12.47" height="12.47" fill="#86870d"/>
<rect x="174.58" y="608.53" width="12.47" height="12.47" fill="#72860a"/>
<rect x="217.98" y="608.53" width="12.47" height="12.47" fill="#6c860a"/>
<rect x="239.67" y="608.53" width="12.47" height="12.47" fill="#6c860a"/>
<rect x="268.60" y="601.30" width="19.70" height="19.70" fill="#6a8608"/>
<rect x="319.23" y="608.53" width="12.47" height="12.47" fill="#668608"/>
<rect x="427.72" y="608.53" width="12.47" height="12.47" fill="#648508"/>
<rect x="463.88" y="608.53" width="12.47" height="12.47" fill="#648508"/>
<rect x="500.05" y="608.53" width="12.47" height="12.47" fill="#668508"/>
<rect x="514.51" y="608.53" width="12.47" height="12.47" fill="#668508"/>
<rect x="73.33" y="601.30" width="12.47" height="12.47" fill="#578400"/>
<rect x="131.19" y="601.30" width="12.47" height="12.47" fill="#578400"/>
<rect x="160.12" y="601.30" width="12.47" height="12.47" fill="#578400"/>
<rect x="189.05" y="601.30" width="12.47" height="12.47" fill="#578400"/>
<rect x="203.51" y="601.30" width="12.47" height="12.47" fill="#578400"/>
<rect x="340.93" y="601.30" width="12.47" height="12.47" fill="#578400"/>
<rect x="536.21" y="601.30" width="12.47" height="12.47" fill="#578400"/>
<rect x="557.91" y="601.30" width="12.47" height="12.47" fill="#578400"/>
<rect x="449.42" y="594.07" width="12.47" height="12.47" fill="#578400"/>
<rect x="355.40" y="514.51" width="92.02" height="92.02" fill="#568000"/>
<rect x="500.05" y="572.37" width="34.16" height="34.16" fill="#568000"/>
<rect x="1.00" y="615.77" width="5.23" height="5.23" fill="#0a8a50"/>
<rect x="8.23" y="615.77" width="5.23" height="5.23" fill="#c0205a"/>
<rect x="15.47" y="615.77" width="5.23" height="5.23" fill="#d06a28"/>
<rect x="22.70" y="615.77" width="5.23" height="5.23" fill="#c0901c"/>
<rect x="51.63" y="615.77" width="5.23" height="5.23" fill="#91870f"/>
<rect x="73.33" y="615.77" width="5.23" height="5.23" fill="#91870f"/>
<rect x="80.56" y="615.77" width="5.23" height="5.23" fill="#91870f"/>
<rect x="87.79" y="615.77" width="5.23" height="5.23" fill="#91870f"/>
<rect x="95.02" y="615.77" width="5.23" height="5.23" fill="#91870f"/>
<rect x="102.26" y="615.77" width="5.23" height="5.23" fill="#91870f"/>
<rect x="123.95" y="615.77" width="5.23" height="5.23" fill="#7d870c"/>
<rect x="131.19" y="615.77" width="5.23" height="5.23" fill="#7d870c"/>
<rect x="138.42" y="615.77" width="5.23" height="5.23" fill="#7d870c"/>
<rect x="145.65" y="615.77" width="5.23" height="5.23" fill="#7d870c"/>
<rect x="152.88" y="615.77" width="5.23" height="5.23" fill="#7d870c"/>
<rect x="160.12" y="615.77" width="5.23" height="5.23" fill="#7d870c"/>
<rect x="167.35" y="615.77" width="5.23" height="5.23" fill="#7d870c"/>
<rect x="189.05" y="615.77" width="5.23" height="5.23" fill="#70870a"/>
<rect x="196.28" y="615.77" width="5.23" height="5.23" fill="#70870a"/>
<rect x="203.51" y="615.77" width="5.23" height="5.23" fill="#70870a"/>
<rect x="210.74" y="615.77" width="5.23" height="5.23" fill="#70870a"/>
<rect x="232.44" y="615.77" width="5.23" height="5.23" fill="#70870a"/>
<rect x="254.14" y="615.77" width="5.23" height="5.23" fill="#70870a"/>
<rect x="261.37" y="615.77" width="5.23" height="5.23" fill="#70870a"/>
<rect x="290.30" y="615.77" width="5.23" height="5.23" fill="#70870a"/>
<rect x="297.53" y="615.77" width="5.23" height="5.23" fill="#70870a"/>
<rect x="304.77" y="615.77" width="5.23" height="5.23" fill="#70870a"/>
<rect x="312.00" y="615.77" width="5.23" height="5.23" fill="#70870a"/>
<rect x="333.70" y="615.77" width="5.23" height="5.23" fill="#65870a"/>
<rect x="340.93" y="615.77" width="5.23" height="5.23" fill="#65870a"/>
<rect x="348.16" y="615.77" width="5.23" height="5.23" fill="#65870a"/>
<rect x="355.40" y="615.77" width="5.23" height="5.23" fill="#65870a"/>
<rect x="362.63" y="615.77" width="5.23" height="5.23" fill="#65870a"/>
<rect x="369.86" y="615.77" width="5.23" height="5.23" fill="#65870a"/>
<rect x="377.09" y="615.77" width="5.23" height="5.23" fill="#65870a"/>
<rect x="384.33" y="615.77" width="5.23" height="5.23" fill="#65870a"/>
<rect x="391.56" y="615.77" width="5.23" height="5.23" fill="#65870a"/>
<rect x="398.79" y="615.77" width="5.23" height="5.23" fill="#65870a"/>
<rect x="406.02" y="615.77" width="5.23" height="5.23" fill="#65870a"/>
<rect x="413.26" y="615.77" width="5.23" height="5.23" fill="#65870a"/>
<rect x="420.49" y="615.77" width="5.23" height="5.23" fill="#65870a"/>
<rect x="442.19" y="615.77" width="5.23" height="5.23" fill="#65870a"/>
<rect x="449.42" y="615.77" width="5.23" height="5.23" fill="#65870a"/>
<rect x="456.65" y="615.77" width="5.23" height="5.23" fill="#65870a"/>
<rect x="478.35" y="615.77" width="5.23" height="5.23" fill="#65870a"/>
<rect x="485.58" y="615.77" width="5.23" height="5.23" fill="#65870a"/>
<rect x="492.81" y="615.77" width="5.23" height="5.23" fill="#65870a"/>
<rect x="528.98" y="615.77" width="5.23" height="5.23" fill="#65870a"/>
<rect x="536.21" y="615.77" width="5.23" height="5.23" fill="#65870a"/>
<rect x="543.44" y="615.77" width="5.23" height="5.23" fill="#65870a"/>
<rect x="550.67" y="615.77" width="5.23" height="5.23" fill="#65870a"/>
<rect x="557.91" y="615.77" width="5.23" height="5.23" fill="#65870a"/>
<rect x="565.14" y="615.77" width="5.23" height="5.23" fill="#65870a"/>
<rect x="572.37" y="615.77" width="5.23" height="5.23" fill="#65870a"/>
<rect x="579.60" y="615.77" width="5.23" height="5.23" fill="#65870a"/>
<rect x="586.84" y="615.77" width="5.23" height="5.23" fill="#65870a"/>
<rect x="594.07" y="615.77" width="5.23" height="5.23" fill="#65870a"/>
<rect x="601.30" y="615.77" width="5.23" height="5.23" fill="#65870a"/>
<rect x="608.53" y="615.77" width="5.23" height="5.23" fill="#65870a"/>
<rect x="615.77" y="615.77" width="5.23" height="5.23" fill="#65870a"/>
<rect x="1.00" y="608.53" width="5.23" height="5.23" fill="#578400"/>
<rect x="8.23" y="608.53" width="5.23" height="5.23" fill="#578400"/>
<rect x="15.47" y="608.53" width="5.23" height="5.23" fill="#578400"/>
<rect x="22.70" y="608.53" width="5.23" height="5.23" fill="#578400"/>
<rect x="51.63" y="608.53" width="5.23" height="5.23" fill="#578400"/>
<rect x="87.79" y="608.53" width="5.23" height="5.23" fill="#578400"/>
<rect x="95.02" y="608.53" width="5.23" height="5.23" fill="#578400"/>
<rect x="102.26" y="608.53" width="5.23" height="5.23" fill="#578400"/>
<rect x="123.95" y="608.53" width="5.23" height="5.23" fill="#578400"/>
<rect x="145.65" y="608.53" width="5.23" height="5.23" fill="#3a4a20"/>
<rect x="152.88" y="608.53" width="5.23" height="5.23" fill="#578400"/>
<rect x="232.44" y="608.53" width="5.23" height="5.23" fill="#578400"/>
<rect x="254.14" y="608.53" width="5.23" height="5.23" fill="#578400"/>
<rect x="261.37" y="608.53" width="5.23" height="5.23" fill="#578400"/>
<rect x="290.30" y="608.53" width="5.23" height="5.23" fill="#578400"/>
<rect x="297.53" y="608.53" width="5.23" height="5.23" fill="#578400"/>
<rect x="304.77" y="608.53" width="5.23" height="5.23" fill="#578400"/>
<rect x="312.00" y="608.53" width="5.23" height="5.23" fill="#578400"/>
<rect x="333.70" y="608.53" width="5.23" height="5.23" fill="#578400"/>
<rect x="355.40" y="608.53" width="5.23" height="5.23" fill="#578400"/>
<rect x="362.63" y="608.53" width="5.23" height="5.23" fill="#578400"/>
<rect x="369.86" y="608.53" width="5.23" height="5.23" fill="#578400"/>
<rect x="377.09" y="608.53" width="5.23" height="5.23" fill="#578400"/>
<rect x="384.33" y="608.53" width="5.23" height="5.23" fill="#578400"/>
<rect x="391.56" y="608.53" width="5.23" height="5.23" fill="#578400"/>
<rect x="398.79" y="608.53" width="5.23" height="5.23" fill="#578400"/>
<rect x="406.02" y="608.53" width="5.23" height="5.23" fill="#578400"/>
<rect x="413.26" y="608.53" width="5.23" height="5.23" fill="#578400"/>
<rect x="420.49" y="608.53" width="5.23" height="5.23" fill="#578400"/>
<rect x="442.19" y="608.53" width="5.23" height="5.23" fill="#578400"/>
<rect x="449.42" y="608.53" width="5.23" height="5.23" fill="#578400"/>
<rect x="456.65" y="608.53" width="5.23" height="5.23" fill="#578400"/>
<rect x="478.35" y="608.53" width="5.23" height="5.23" fill="#578400"/>
<rect x="485.58" y="608.53" width="5.23" height="5.23" fill="#578400"/>
<rect x="492.81" y="608.53" width="5.23" height="5.23" fill="#578400"/>
<rect x="528.98" y="608.53" width="5.23" height="5.23" fill="#578400"/>
<rect x="550.67" y="608.53" width="5.23" height="5.23" fill="#578400"/>
<rect x="572.37" y="608.53" width="5.23" height="5.23" fill="#578400"/>
<rect x="579.60" y="608.53" width="5.23" height="5.23" fill="#578400"/>
<rect x="586.84" y="608.53" width="5.23" height="5.23" fill="#578400"/>
<rect x="594.07" y="608.53" width="5.23" height="5.23" fill="#578400"/>
<rect x="601.30" y="608.53" width="5.23" height="5.23" fill="#578400"/>
<rect x="608.53" y="608.53" width="5.23" height="5.23" fill="#578400"/>
<rect x="615.77" y="608.53" width="5.23" height="5.23" fill="#578400"/>
<rect x="1.00" y="601.30" width="5.23" height="5.23" fill="#578400"/>
<rect x="8.23" y="601.30" width="5.23" height="5.23" fill="#578400"/>
<rect x="15.47" y="601.30" width="5.23" height="5.23" fill="#578400"/>
<rect x="22.70" y="601.30" width="5.23" height="5.23" fill="#578400"/>
<rect x="51.63" y="601.30" width="5.23" height="5.23" fill="#578400"/>
<rect x="58.86" y="601.30" width="5.23" height="5.23" fill="#578400"/>
<rect x="66.09" y="601.30" width="5.23" height="5.23" fill="#578400"/>
<rect x="87.79" y="601.30" width="5.23" height="5.23" fill="#578400"/>
<rect x="95.02" y="601.30" width="5.23" height="5.23" fill="#578400"/>
<rect x="102.26" y="601.30" width="5.23" height="5.23" fill="#578400"/>
<rect x="109.49" y="601.30" width="5.23" height="5.23" fill="#578400"/>
<rect x="116.72" y="601.30" width="5.23" height="5.23" fill="#578400"/>
<rect x="123.95" y="601.30" width="5.23" height="5.23" fill="#578400"/>
<rect x="145.65" y="601.30" width="5.23" height="5.23" fill="#578400"/>
<rect x="152.88" y="601.30" width="5.23" height="5.23" fill="#578400"/>
<rect x="174.58" y="601.30" width="5.23" height="5.23" fill="#578400"/>
<rect x="181.81" y="601.30" width="5.23" height="5.23" fill="#578400"/>
<rect x="217.98" y="601.30" width="5.23" height="5.23" fill="#578400"/>
<rect x="225.21" y="601.30" width="5.23" height="5.23" fill="#578400"/>
<rect x="232.44" y="601.30" width="5.23" height="5.23" fill="#578400"/>
<rect x="239.67" y="601.30" width="5.23" height="5.23" fill="#578400"/>
<rect x="246.91" y="601.30" width="5.23" height="5.23" fill="#578400"/>
<rect x="254.14" y="601.30" width="5.23" height="5.23" fill="#578400"/>
<rect x="261.37" y="601.30" width="5.23" height="5.23" fill="#578400"/>
<rect x="290.30" y="601.30" width="5.23" height="5.23" fill="#578400"/>
<rect x="297.53" y="601.30" width="5.23" height="5.23" fill="#578400"/>
<rect x="304.77" y="601.30" width="5.23" height="5.23" fill="#578400"/>
<rect x="312.00" y="601.30" width="5.23" height="5.23" fill="#578400"/>
<rect x="319.23" y="601.30" width="5.23" height="5.23" fill="#578400"/>
<rect x="326.47" y="601.30" width="5.23" height="5.23" fill="#578400"/>
<rect x="333.70" y="601.30" width="5.23" height="5.23" fill="#578400"/>
<rect x="463.88" y="601.30" width="5.23" height="5.23" fill="#578400"/>
<rect x="471.12" y="601.30" width="5.23" height="5.23" fill="#578400"/>
<rect x="478.35" y="601.30" width="5.23" height="5.23" fill="#578400"/>
<rect x="485.58" y="601.30" width="5.23" height="5.23" fill="#578400"/>
<rect x="492.81" y="601.30" width="5.23" height="5.23" fill="#578400"/>
<rect x="550.67" y="601.30" width="5.23" height="5.23" fill="#578400"/>
</svg>
<div class="tbl" id="tbl-exp">
<div class="row odd" style="left:35.2px;top:1163.00px;width:624.9px;height:57.0px"><i class="sep" style="left:374.3px"></i></div>
<div class="row" style="left:35.2px;top:1220.90px;width:624.9px"></div>
<div class="row odd" style="left:35.2px;top:1278.80px;width:624.9px;height:57.5px"><i class="sep" style="left:374.3px"></i></div>
<span class="t w" style="left:48.30px;top:1181.00px;font-size:19.8px;letter-spacing:0.221px">Всього комісій</span>
<span class="t w" style="left:48.30px;top:1239.00px;font-size:19.8px;letter-spacing:-0.459px">Вага</span>
<span class="t w" style="left:49.30px;top:1297.00px;font-size:19.8px;letter-spacing:-0.039px">Транзакції</span>
<span class="t w" style="left:425.10px;top:1181.00px;font-size:19.8px;transform:scaleX(0.9232)">0,004</span>
<span class="t s" style="left:476.42px;top:1185.00px;font-size:14.9px;transform:scaleX(0.8819)">BTC</span>
<span class="t w" style="left:425.10px;top:1239.00px;font-size:19.8px;transform:scaleX(0.9455)">3.99</span>
<span class="t s" style="left:466.30px;top:1243.00px;font-size:14.9px;letter-spacing:-0.679px">MWU</span>
<span class="t w" style="left:425.10px;top:1297.00px;font-size:19.8px;letter-spacing:-0.601px">4223</span>
</div>
<div class="tbl" id="tbl-act">
<div class="row odd" style="left:696.4px;top:1163.00px;width:625.4px;height:57.0px"><i class="sep" style="left:275.1px"></i></div>
<div class="row" style="left:696.4px;top:1220.90px;width:625.4px"></div>
<div class="row odd" style="left:696.4px;top:1278.80px;width:625.4px;height:57.5px"><i class="sep" style="left:275.1px"></i></div>
<span class="t w" style="left:709.60px;top:1181.00px;font-size:19.8px;letter-spacing:0.213px">Всього комісій</span>
<span class="t w" style="left:709.60px;top:1239.00px;font-size:19.8px;letter-spacing:-0.459px">Вага</span>
<span class="t w" style="left:710.60px;top:1297.00px;font-size:19.8px;letter-spacing:-0.039px">Транзакції</span>
<span class="t w" style="left:987.00px;top:1181.00px;font-size:19.8px;transform:scaleX(0.9131)">0,003</span>
<span class="t s" style="left:1037.60px;top:1185.00px;font-size:14.9px;transform:scaleX(0.8957)">BTC</span>
<span class="t r" style="left:1078.30px;top:1181.00px;font-size:19.8px;transform:scaleX(0.9126)">-29.06%</span>
<span class="t w" style="left:986.00px;top:1239.00px;font-size:19.8px;letter-spacing:-0.200px">226.57</span>
<span class="t s" style="left:1049.20px;top:1243.00px;font-size:14.9px;letter-spacing:-0.550px">kWU</span>
<span class="t r" style="left:1094.40px;top:1239.00px;font-size:19.8px;transform:scaleX(0.9222)">-94.32%</span>
<span class="t w" style="left:986.00px;top:1297.00px;font-size:19.8px;letter-spacing:-0.301px">164</span>
<span class="t r" style="left:1033.90px;top:1297.00px;font-size:19.8px;transform:scaleX(0.9099)">-96.12%</span>
</div>
</main></body></html>
